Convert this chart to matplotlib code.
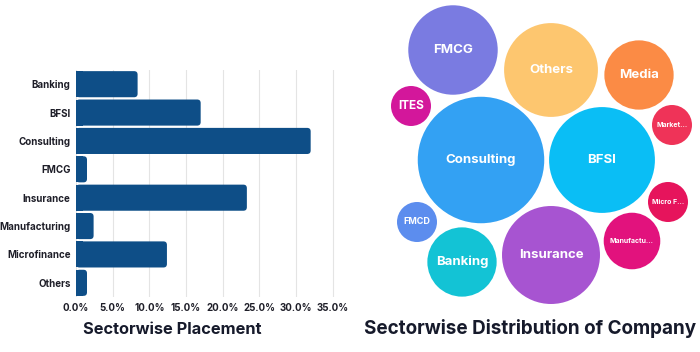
import matplotlib.pyplot as plt
from matplotlib.patches import FancyBboxPatch, Rectangle, Circle
import numpy as np

# left chart: sectorwise placement (%)
sectors = ["Banking", "BFSI", "Consulting", "FMCG", "Insurance",
           "Manufacturing", "Microfinance", "Others"]
placement = [8.4, 17.0, 32.0, 1.5, 23.3, 2.4, 12.4, 1.5]
xticks = [0, 5, 10, 15, 20, 25, 30, 35]

# right chart: companies per sector (bubble area)
companies = ["FMCG", "Others", "Media", "ITES", "Market...", "Consulting",
             "BFSI", "Micro F...", "FMCD", "Manufactu...", "Banking", "Insurance"]
company_count = [20, 22, 12, 4, 4, 40, 28, 4, 4, 8, 12, 24]

# packed layout of the bubbles (pixel space of the figure)
bubble_xy = [(453, 50), (551, 70), (639, 75), (411, 106), (672, 125),
             (481, 160), (602, 160), (668, 202), (417, 222), (632, 241),
             (462, 262), (551, 255)]
bubble_colors = ["#7A7BE1", "#FDC66F", "#FB8B45", "#D3179B", "#EF3358",
                 "#33A1F3", "#0ABEF5", "#E6145C", "#5C8DEE", "#E2127D",
                 "#13C3D5", "#A754D1"]
label_sizes = [9.5, 9.5, 9.5, 8.5, 5, 9.5, 9.5, 5, 6.5, 5, 9.5, 9.5]

FONT = ["Inter", "DejaVu Sans"]
plt.rcParams["font.family"] = FONT

W, H = 700, 352
fig = plt.figure(figsize=(7, 3.52), dpi=100)

# ---- bar chart ----
xmax = 36
ax = fig.add_axes([76 / W, 1 - 297 / H, (340 - 76) / W, (297 - 70) / H])
ax.set_xlim(0, xmax)
ax.set_ylim(len(sectors) - 0.5, -0.5)

px_x = (340 - 76) / xmax          # pixels per % unit
px_y = (297 - 70) / len(sectors)  # pixels per bar slot
rad = 3.5 / px_x
bh = 0.92
for i, v in enumerate(placement):
    ax.add_patch(FancyBboxPatch((0, i - bh / 2), v, bh,
                                boxstyle=f"round,pad=0,rounding_size={rad}",
                                mutation_aspect=px_x / px_y,
                                fc="#0E4E87", ec="none", zorder=3))
    ax.add_patch(Rectangle((0, i - bh / 2), min(v, 2 * rad), bh,
                           fc="#0E4E87", ec="none", zorder=3))

for t in xticks:
    ax.axvline(t, color="#E4E4E4", lw=0.8, zorder=0)
ax.set_xticks(xticks)
ax.set_xticklabels([f"{t:.1f}%" for t in xticks], fontsize=7, fontweight="bold", color="#1E1E28")
ax.set_yticks(range(len(sectors)))
ax.set_yticklabels(sectors, fontsize=7, fontweight="bold", color="#1E1E28")
ax.tick_params(length=0, pad=4)
for s in ax.spines.values():
    s.set_visible(False)

fig.text(172 / W, 1 - 329 / H, "Sectorwise Placement", ha="center", va="center",
         fontsize=11.8, fontweight="bold", color="#161A2B")

# ---- bubble chart ----
bx = fig.add_axes([370 / W, 0, 330 / W, 1])
bx.set_xlim(370, 700)
bx.set_ylim(H, 0)
bx.set_aspect("equal")
bx.axis("off")
for name, n, (cx, cy), c, fs in zip(companies, company_count, bubble_xy,
                                     bubble_colors, label_sizes):
    r = 10 * np.sqrt(n)
    bx.add_patch(Circle((cx, cy), r, fc=c, ec="none"))
    bx.text(cx, cy, name, ha="center", va="center", color="white",
            fontsize=fs, fontweight="bold")

fig.text(530 / W, 1 - 328 / H, "Sectorwise Distribution of Company", ha="center",
         va="center", fontsize=13.6, fontweight="bold", color="#161A2B")

fig.savefig("out.png", dpi=100)
